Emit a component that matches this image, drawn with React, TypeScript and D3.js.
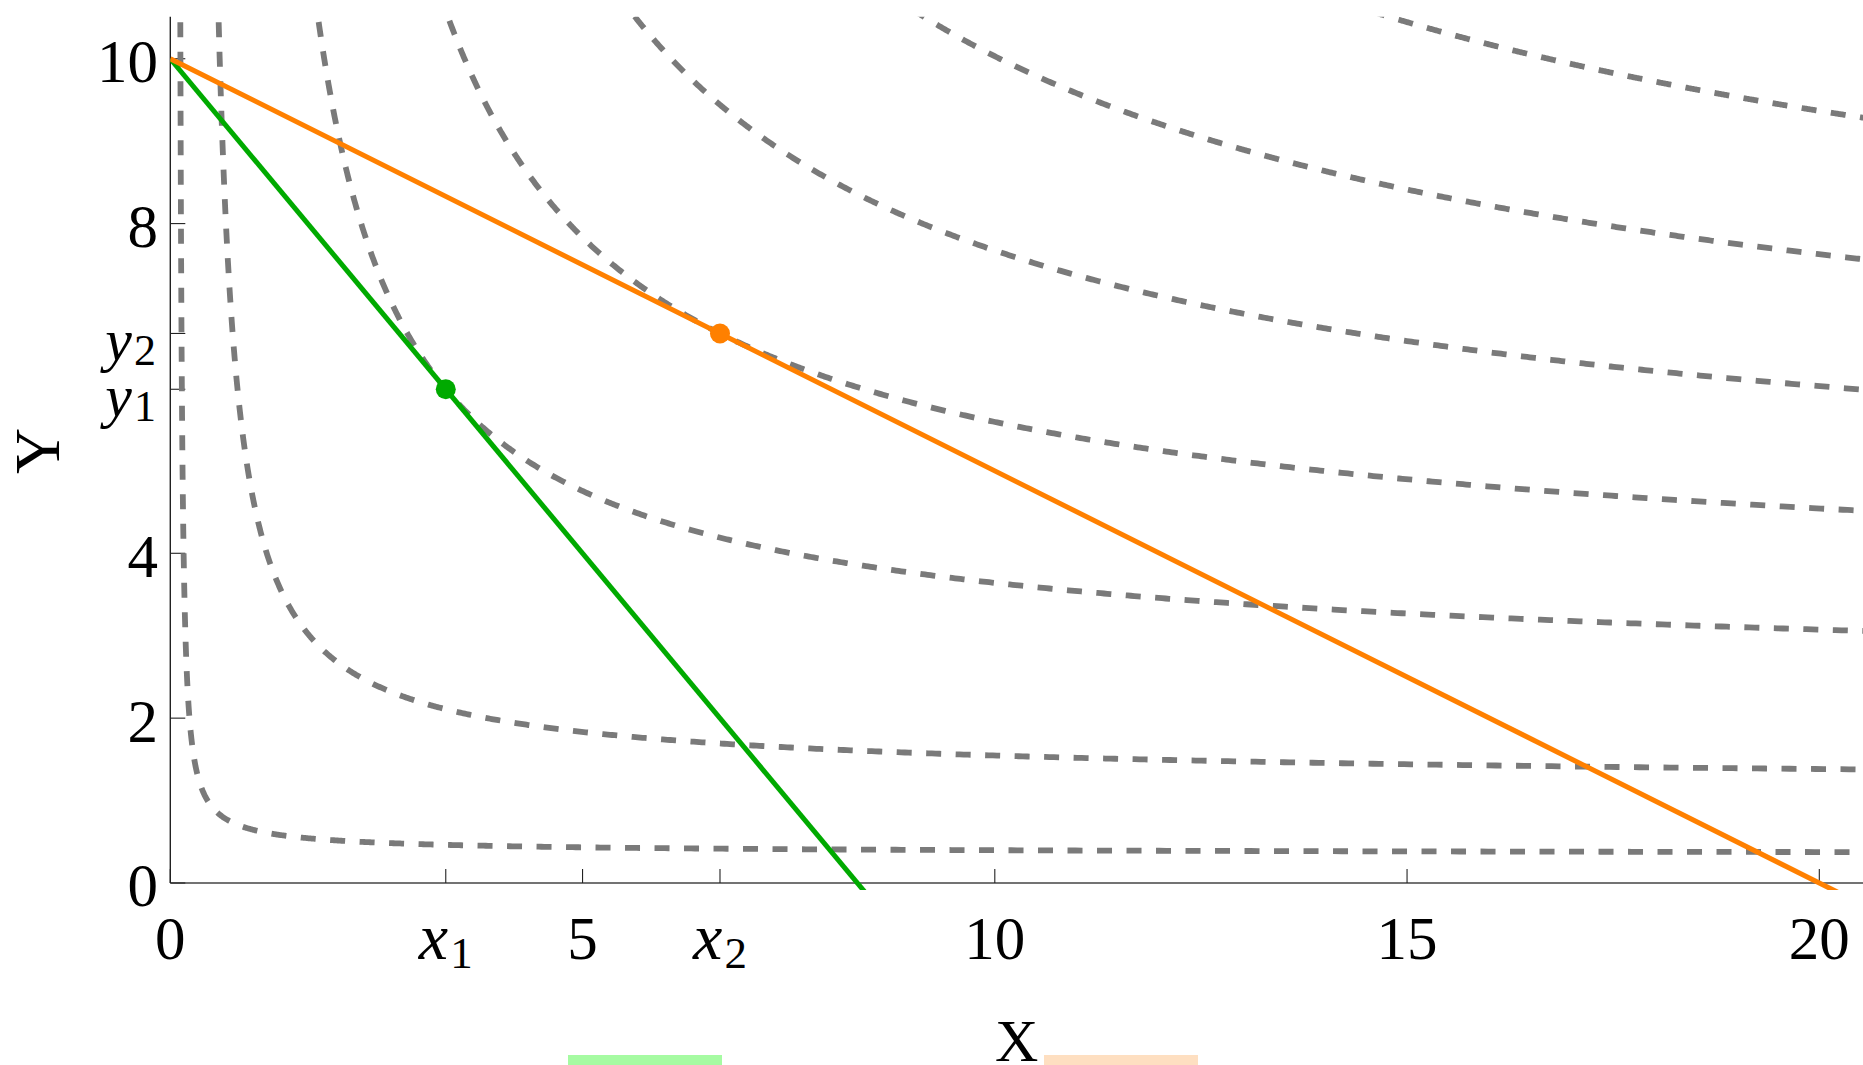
import React from "react";
import * as d3 from "d3";

// ---- data ----
const utilityLevels = [0.74, 2.43, 4.835, 6.667, 8.35, 10.02, 11.7];
const cesShareX = 1 / 3;
const cesRho = -0.5;

const budgetNames = ["green", "orange"];
const budgetYIntercept = 10;
const budgetXIntercepts = [8.333, 20];
const budgetColors = ["#00aa00", "#ff8000"];

const optimumX = [3.341, 6.667];
const optimumY = [5.99, 6.667];

const xTickValues = [0, 3.341, 5, 6.667, 10, 15, 20];
const xTickLabels = ["0", "x1", "5", "x2", "10", "15", "20"];
const yTickValues = [0, 2, 4, 5.99, 6.667, 8, 10];
const yTickLabels = ["0", "2", "4", "y1", "y2", "8", "10"];

const legendColors = ["#a6fba2", "#fedfc1"];

const W = 1863;
const H = 1065;

const xScale = d3.scaleLinear().domain([0, 20.53]).range([170.3, 1863]);
const yScale = d3.scaleLinear().domain([-0.085, 10.51]).range([890, 16.7]);

function curvePoints(U: number): [number, number][] {
  const a = cesShareX;
  const r = cesRho;
  const Ur = Math.pow(U, r);
  const yTop = 10.8;
  const xr = (Ur - (1 - a) * Math.pow(yTop, r)) / a;
  const x0 = Math.pow(xr, 1 / r);
  const x1 = 21;
  const n = 700;
  const pts: [number, number][] = [];
  for (let i = 0; i <= n; i++) {
    const x = x0 * Math.pow(x1 / x0, i / n);
    const inner = (Ur - a * Math.pow(x, r)) / (1 - a);
    if (inner <= 0) continue;
    const y = Math.pow(inner, 1 / r);
    pts.push([x, y]);
  }
  return pts;
}

const FONT = "'Liberation Serif', 'Times New Roman', serif";

function MathLabel({ label, x, y, anchor, subDy, italicSize, subSize }: { label: string; x: number; y: number; anchor: string; subDy: number; italicSize: number; subSize: number }) {
  if (/^[xy]\d$/.test(label)) {
    return (
      <text x={x} y={y} textAnchor={anchor} fontFamily={FONT} fill="#000">
        <tspan fontStyle="italic" fontSize={italicSize}>{label[0]}</tspan>
        <tspan fontSize={subSize} dy={subDy} dx={2}>{label[1]}</tspan>
      </text>
    );
  }
  return (
    <text x={x} y={y} textAnchor={anchor} fontFamily={FONT} fontSize={61} fill="#000">
      {label}
    </text>
  );
}

export default function App() {
  const line = d3
    .line<[number, number]>()
    .x((d) => xScale(d[0]))
    .y((d) => yScale(d[1]));

  const x0 = xScale(0);
  const y0 = yScale(0);

  return (
    <svg
      width={W}
      height={H}
      style={{ position: "absolute", left: 0, top: 0, background: "#fff" }}
    >
      <defs>
        <clipPath id="plotclip">
          <rect x={x0} y={16.7} width={W - x0} height={890 - 16.7} />
        </clipPath>
      </defs>
      <rect x={0} y={0} width={W} height={H} fill="#fff" />

      {/* axes */}
      <line x1={x0} x2={x0} y1={16.7} y2={y0} stroke="#222" strokeWidth={1.4} />
      <line x1={x0} x2={W} y1={y0} y2={y0} stroke="#444" strokeWidth={1.6} />
      {xTickValues.map((v, i) => (
        <line key={"xt" + i} x1={xScale(v)} x2={xScale(v)} y1={y0} y2={y0 - 14} stroke="#222" strokeWidth={1.1} />
      ))}
      {yTickValues.map((v, i) => (
        <line key={"yt" + i} x1={x0} x2={x0 + 15} y1={yScale(v)} y2={yScale(v)} stroke="#222" strokeWidth={1.1} />
      ))}

      <g clipPath="url(#plotclip)">
        {utilityLevels.map((U, i) => (
          <path
            key={"ic" + i}
            d={line(curvePoints(U)) || ""}
            fill="none"
            stroke="#7a7a7a"
            strokeWidth={5.8}
            strokeDasharray="15 14.5"
          />
        ))}
        {budgetNames.map((name, i) => {
          const xi = budgetXIntercepts[i];
          const pts: [number, number][] = [
            [0, budgetYIntercept],
            [xi * 1.03, -budgetYIntercept * 0.03],
          ];
          return (
            <path key={name} d={line(pts) || ""} fill="none" stroke={budgetColors[i]} strokeWidth={5} />
          );
        })}
        {optimumX.map((v, i) => (
          <circle key={"pt" + i} cx={xScale(v)} cy={yScale(optimumY[i])} r={10} fill={budgetColors[i]} />
        ))}
      </g>

      {/* tick labels */}
      {yTickValues.map((v, i) => {
        const lab = yTickLabels[i];
        const isMath = /^[xy]\d$/.test(lab);
        return (
          <MathLabel
            key={"yl" + i}
            label={lab}
            x={isMath ? 156 : 158}
            y={yScale(v) + (isMath ? 27 : 23.5)}
            anchor="end"
            subDy={5}
            italicSize={60}
            subSize={44}
          />
        );
      })}
      {xTickValues.map((v, i) => (
        <MathLabel key={"xl" + i} label={xTickLabels[i]} x={xScale(v)} y={959} anchor="middle" subDy={9} italicSize={66} subSize={45} />
      ))}

      {/* axis titles */}
      <text
        x={0}
        y={0}
        transform={`translate(59, 451) rotate(-90)`}
        textAnchor="middle"
        fontFamily={FONT}
        fontSize={64}
        fill="#000"
      >
        Y
      </text>
      <text x={1016.6} y={1061} textAnchor="middle" fontFamily={FONT} fontSize={60} fill="#000">
        X
      </text>

      {/* legend (cut off at bottom) */}
      <rect x={568} y={1055} width={154} height={20} fill={legendColors[0]} />
      <rect x={1044} y={1055} width={154} height={20} fill={legendColors[1]} />
    </svg>
  );
}
